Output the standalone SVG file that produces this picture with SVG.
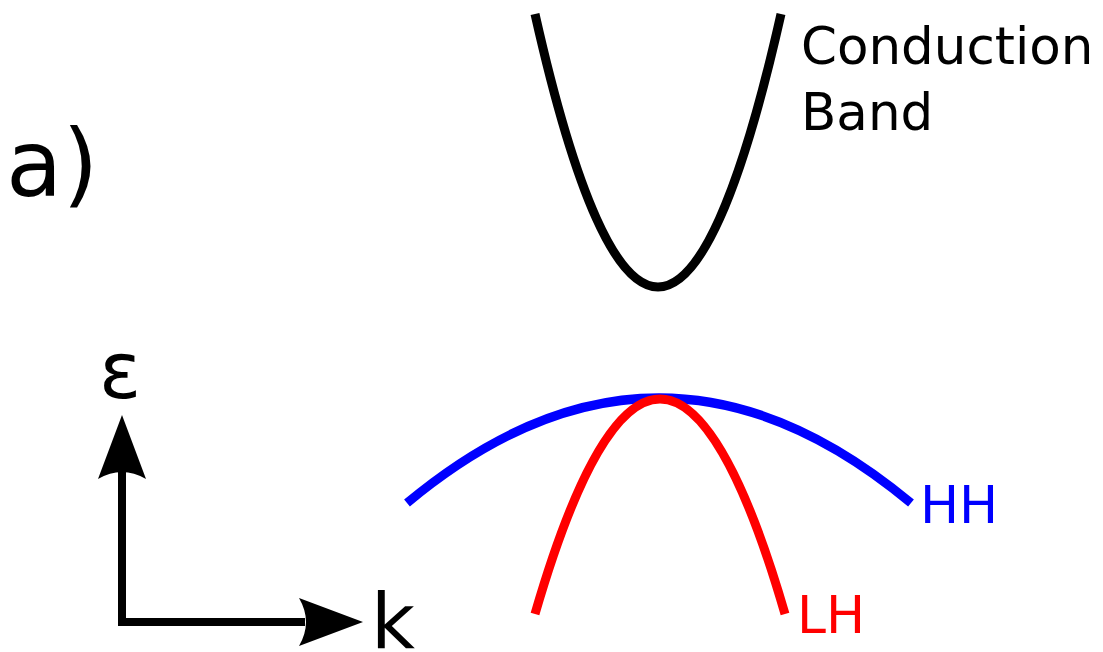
<svg xmlns="http://www.w3.org/2000/svg" width="1103" height="652" viewBox="0 0 1103 652">
<style>
text{font-family:"DejaVu Sans","Liberation Sans",sans-serif}
.band{fill:none;stroke-width:9;stroke-linecap:butt}
.axis{fill:none;stroke:#000;stroke-width:8}
</style>
<rect width="1103" height="652" fill="#fff"/>
<g id="label-a"><text x="6" y="196" font-size="92">a)</text></g>
<g id="conduction-band">
<path class="band" stroke="#000" d="M535,14 Q658,560 781,14"/>
<text x="801" y="64" font-size="51.5">Conduction</text>
<text x="801" y="130" font-size="51.5">Band</text>
</g>
<g id="heavy-hole">
<path class="band" stroke="#0000ff" d="M407,503 Q659,293 911,503"/>
<text x="920" y="523" font-size="52" fill="#0000ff">HH</text>
</g>
<g id="light-hole">
<path class="band" stroke="#ff0000" d="M535,614 Q660,184 785,614"/>
<text x="797" y="633" font-size="52" fill="#ff0000">LH</text>
</g>
<g id="axes">
<path class="axis" d="M122,470 V622 H305"/>
<path d="M122,415 L146,479 Q122,465 98,479 Z" fill="#000"/>
<path d="M363,622 L299,646 Q313,622 299,598 Z" fill="#000"/>
<text x="99" y="398" font-size="78">ε</text>
<text x="371" y="648" font-size="76">k</text>
</g>
</svg>
